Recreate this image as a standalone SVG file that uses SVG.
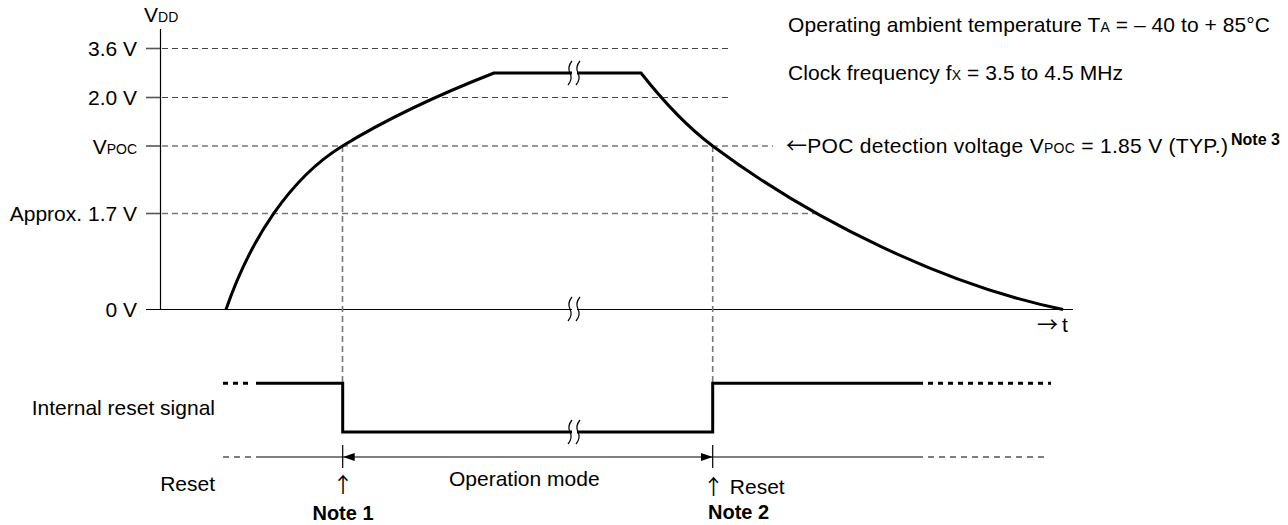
<svg xmlns="http://www.w3.org/2000/svg" width="1288" height="525" viewBox="0 0 1288 525">
<style>
text{font-family:"Liberation Sans",Arial,sans-serif;font-size:21px;fill:#000}
.s{font-size:14px}
.b{font-weight:bold;font-size:20px}
.sup{font-weight:bold;font-size:16px}
.ar{font-family:"Noto Sans CJK JP",sans-serif;font-weight:normal;fill:#000}
.axis{stroke:#000;stroke-width:1.2;fill:none}
.d1{stroke:#444;stroke-width:1;stroke-dasharray:6,4;fill:none}
.d2{stroke:#777;stroke-width:1.6;stroke-dasharray:6,4;fill:none}
.tick{stroke:#555;stroke-width:1.6}
.curve{stroke:#000;stroke-width:3;fill:none;stroke-linejoin:miter}
.sig{stroke:#000;stroke-width:3;fill:none}
.sigd{stroke:#000;stroke-width:3;stroke-dasharray:5,5;fill:none}
.thin{stroke:#000;stroke-width:1.2;fill:none}
.thind{stroke:#000;stroke-width:1.2;stroke-dasharray:6,5;fill:none}
.brk{stroke:#000;stroke-width:1.2;fill:none}
.gap{stroke:#fff;stroke-width:5}
</style>
<defs>
<marker id="ah" viewBox="0 0 12 8" refX="12" refY="4" markerWidth="12" markerHeight="8" markerUnits="userSpaceOnUse" orient="auto-start-reverse">
<path d="M0,0 L12,4 L0,8 z" fill="#000"/>
</marker>
</defs>

<g id="axes">
<line class="axis" x1="160.5" y1="29" x2="160.5" y2="309.5"/>
<line class="axis" x1="146" y1="309.5" x2="1073" y2="309.5"/>
<line class="tick" x1="146" y1="48.5" x2="160" y2="48.5"/>
<line class="tick" x1="146" y1="97.5" x2="160" y2="97.5"/>
<line class="tick" x1="146" y1="146" x2="160" y2="146"/>
<line class="tick" x1="146" y1="213.5" x2="160" y2="213.5"/>
</g>

<g id="gridlines">
<line class="d1" x1="162" y1="48.5" x2="728" y2="48.5"/>
<line class="d1" x1="162" y1="97.5" x2="728" y2="97.5"/>
<line class="d2" x1="162" y1="146" x2="773" y2="146"/>
<line class="d2" x1="162" y1="213.5" x2="817" y2="213.5"/>
<line class="d2" x1="342.5" y1="146" x2="342.5" y2="383"/>
<line class="d2" x1="712.7" y1="146" x2="712.7" y2="383"/>
</g>

<g id="vdd-curve">
<path class="curve" d="M226,309.5 C250,240 290,178 342.5,146 C380,123 430,98 494,73 L641,73 Q678,120 712.7,146 C813,221 946,285.6 1063,309.5"/>
</g>

<g id="reset-signal">
<path class="sigd" d="M223,383.3 L253,383.3"/>
<path class="sig" d="M256,383.3 L342.7,383.3 L342.7,432 L712.7,432 L712.7,383.3 L923,383.3"/>
<path class="sigd" d="M928,383.3 L1051,383.3"/>
</g>

<g id="connectors">
<path class="thind" d="M223,457 L253,457"/>
<line class="thin" x1="256" y1="457" x2="342.7" y2="457"/>
<line class="thin" x1="712.7" y1="457" x2="923" y2="457"/>
<path class="thind" d="M928,457 L1047,457"/>
<line class="thin" x1="342.7" y1="457" x2="712.7" y2="457" marker-start="url(#ah)" marker-end="url(#ah)"/>
<line class="thin" x1="342.7" y1="445" x2="342.7" y2="468"/>
<line class="thin" x1="712.7" y1="445" x2="712.7" y2="468"/>
</g>

<g id="breaks">
<line class="gap" x1="572" y1="73" x2="577" y2="73"/>
<path class="brk" d="M572,61 q-5,6 -2,12 q3,6 -2,12"/>
<path class="brk" d="M580,61 q-5,6 -2,12 q3,6 -2,12"/>
<line class="gap" x1="572" y1="309.5" x2="577" y2="309.5"/>
<path class="brk" d="M572,297 q-5,6 -2,12 q3,6 -2,12"/>
<path class="brk" d="M580,297 q-5,6 -2,12 q3,6 -2,12"/>
<line class="gap" x1="572" y1="432" x2="577" y2="432"/>
<path class="brk" d="M572,420 q-5,6 -2,12 q3,6 -2,12"/>
<path class="brk" d="M580,420 q-5,6 -2,12 q3,6 -2,12"/>
</g>

<g id="labels">
<text x="144" y="22">V<tspan class="s">DD</tspan></text>
<text x="137" y="56" text-anchor="end">3.6 V</text>
<text x="137" y="105" text-anchor="end">2.0 V</text>
<text x="137" y="153.5" text-anchor="end">V<tspan class="s">POC</tspan></text>
<text x="137" y="221" text-anchor="end">Approx. 1.7 V</text>
<text x="137" y="317" text-anchor="end">0 V</text>
<text x="1037" y="332"><tspan class="ar">→</tspan><tspan dx="4">t</tspan></text>
<text x="788" y="32" textLength="482" lengthAdjust="spacing">Operating ambient temperature T<tspan class="s">A</tspan> = – 40 to + 85°C</text>
<text x="788" y="80" textLength="335" lengthAdjust="spacing">Clock frequency f<tspan class="s">X</tspan> = 3.5 to 4.5 MHz</text>
<text x="786" y="153" textLength="442" lengthAdjust="spacing"><tspan class="ar">←</tspan>POC detection voltage V<tspan class="s">POC</tspan> = 1.85 V (TYP.)</text>
<text x="1231" y="145" class="sup">Note 3</text>
<text x="215" y="415" text-anchor="end">Internal reset signal</text>
<text x="215" y="491" text-anchor="end">Reset</text>
<text x="343" y="492" text-anchor="middle" class="ar">↑</text>
<text x="343" y="520" text-anchor="middle" class="b">Note 1</text>
<text x="449" y="486">Operation mode</text>
<text x="703" y="494"><tspan class="ar">↑</tspan> Reset</text>
<text x="708" y="519" class="b">Note 2</text>
</g>
</svg>
